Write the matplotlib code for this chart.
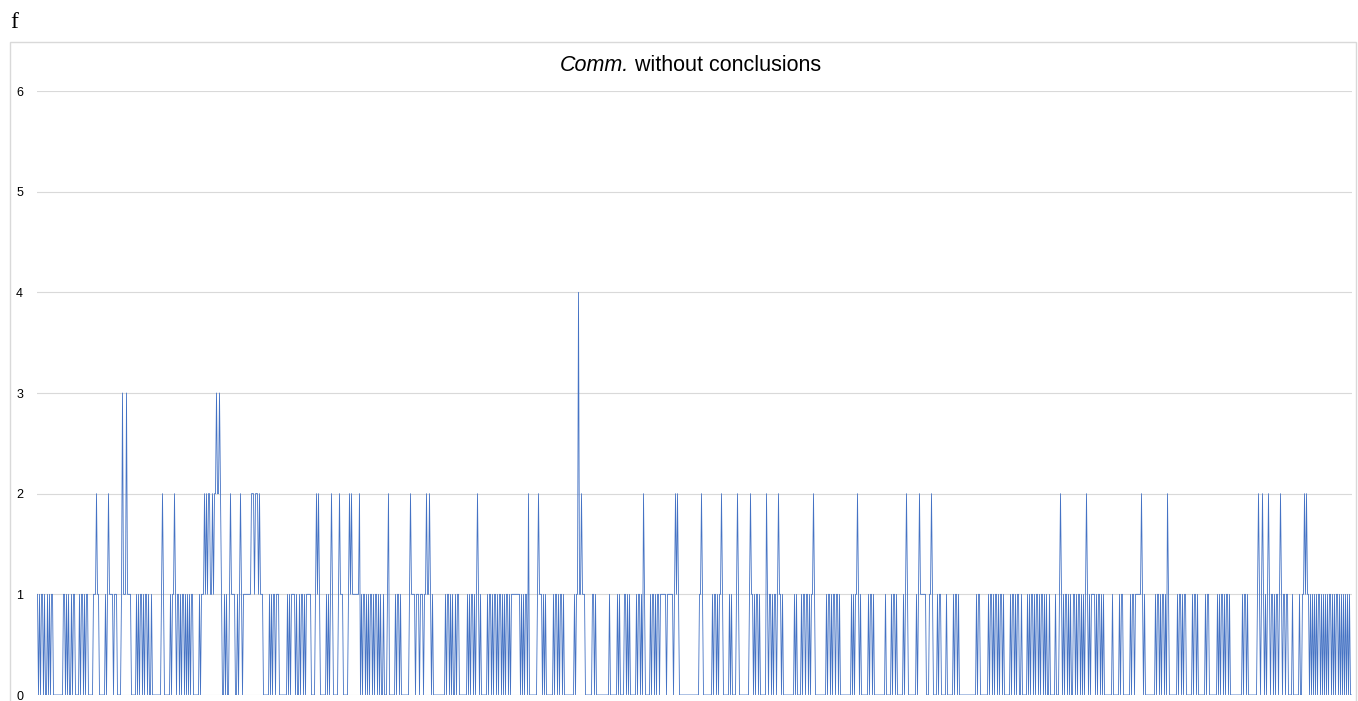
import matplotlib
matplotlib.use('Agg')
import matplotlib.pyplot as plt
from matplotlib.patches import Rectangle

# counts per comment, read off the picture chunk by chunk (roughly one value per pixel column)
chunks = [
    "10101101001010110" + "000000000" + "110101001011" + "0000" + "10110101",
    "100000" + "111" + "2" + "110000001" + "01" + "2" + "11110111" + "00001" + "3" + "111" + "3" + "1111" + "000001",
    "0101101011010010" + "00000000" + "1" + "2" + "100000" + "01011" + "2" + "101101011010",
    "1010110" + "00000" + "10111" + "212122112122322321" + "00101001" + "2" + "11110" + "0",
    "101" + "2" + "10111111" + "11" + "222122212" + "1" + "11" + "000000" + "10101101" + "11" + "00000000",
    "1010" + "1111" + "0100" + "1011010" + "11111" + "0000" + "1" + "2121" + "000000" + "10101" + "2" + "10000",
    "01" + "2" + "111" + "00000" + "1" + "2" + "1" + "2" + "1111111" + "2" + "0101101010" + "11010110101001" + "000",
    "1" + "2" + "000000" + "1011010" + "0000000" + "1" + "2" + "11110111011101" + "1" + "2" + "11" + "2" + "1" + "010" + "000",
    "00000000" + "101101010" + "01011" + "00000000" + "1010110101" + "2" + "101" + "000000",
    "1011010110101101010110101" + "11111111" + "01010110" + "2" + "00000000",
    "1" + "2" + "111" + "0101" + "0000000" + "101101011010" + "000000000" + "1011" + "4" + "11" + "2" + "111" + "00",
    "00000" + "110100" + "00000000000" + "10" + "000000" + "101" + "0000" + "110101" + "000000" + "1",
    "011010" + "2" + "10" + "0000" + "10110101101" + "11111011111" + "101" + "2" + "1" + "2" + "1" + "000000" + "00",
    "00000000000" + "011" + "2" + "1" + "000000000" + "101101011" + "2" + "10000001010000" + "1",
    "2" + "1" + "0" + "000000000" + "1" + "2" + "110101101" + "000000" + "2" + "10110101101" + "2" + "11010000",
    "0000000" + "1010000101" + "101101011" + "2" + "1000000000001" + "0110101101",
    "101" + "00000000000" + "101011" + "2" + "1010" + "000000" + "1011010" + "0000000000" + "10",
    "0000" + "101101" + "000000" + "101" + "2" + "10000000" + "0101" + "2" + "111111" + "0001" + "1" + "2" + "10000",
    "10110" + "0000" + "1" + "000000" + "1011010" + "0000000000000000" + "1011" + "0000000",
    "01011010" + "110101101" + "000000" + "1011010110" + "01000001010" + "110101",
    "1010110101" + "00100000100" + "01" + "2" + "10101101010" + "01101011010101" + "2",
    "1010" + "1111" + "010110101" + "00000000" + "10" + "00000" + "10110" + "000000" + "1011011",
    "1111" + "2" + "1010" + "000000000" + "101101011010" + "2" + "1" + "00000000" + "1011010110",
    "00000" + "101101" + "0000000" + "1011" + "00000000" + "10101101011010" + "000000",
    "00000" + "101101" + "000000000" + "1" + "2" + "101" + "2" + "10101" + "2" + "10110101101" + "2" + "101101",
    "10" + "0001000000100" + "11" + "2" + "1" + "2" + "1" + "10101010101101010101011010101",
    "101010101010100",
]
values = [int(c) for c in "".join(chunks)]
y_ticks = [0, 1, 2, 3, 4, 5, 6]

fig = plt.figure(figsize=(13.58, 7.01), dpi=100)

# light chart border like the spreadsheet chart area
fig.patches.append(Rectangle((10 / 1358, -0.02), 1346 / 1358, 0.96,
                             transform=fig.transFigure, fill=False,
                             edgecolor='#d9d9d9', linewidth=1.0))

ax = fig.add_axes([37 / 1358, 6 / 701, 1315 / 1358, 604 / 701])
ax.plot(range(len(values)), values, color='#4472C4', linewidth=0.6)

ax.set_xlim(-0.5, len(values) - 0.5)
ax.set_ylim(0, 6)
ax.set_yticks(y_ticks)
ax.set_xticks([])
ax.grid(axis='y', color='#d9d9d9', linewidth=0.8)
ax.set_axisbelow(True)
for s in ax.spines.values():
    s.set_visible(False)
ax.tick_params(axis='y', length=0, pad=10, labelsize=9)
for lab in ax.get_yticklabels():
    lab.set_fontfamily('Liberation Sans')

fig.text(629 / 1358, 0.907, 'Comm.', fontsize=15.5, ha='right', va='center',
         family='Liberation Sans', style='italic')
fig.text(629 / 1358, 0.907, ' without conclusions', fontsize=15.5, ha='left', va='center',
         family='Liberation Sans')
fig.text(10 / 1358, 0.968, 'f', fontsize=17, ha='left', va='center',
         family='Liberation Serif')

fig.savefig('out.png', dpi=100)
